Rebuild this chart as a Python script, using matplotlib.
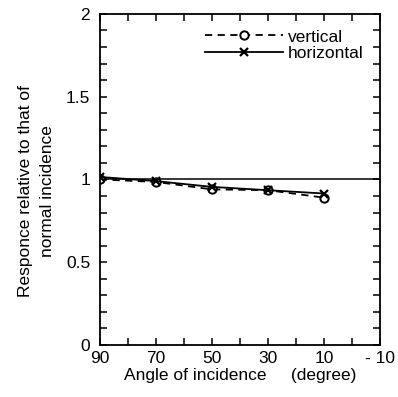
import matplotlib
matplotlib.use("Agg")
import matplotlib.pyplot as plt
from matplotlib.ticker import MultipleLocator, FixedLocator, FixedFormatter

plt.rcParams['font.family'] = ['Liberation Sans', 'DejaVu Sans']

angles = [90, 70, 50, 30, 10]
vertical = [1.00, 0.985, 0.94, 0.935, 0.89]
horizontal = [1.015, 0.99, 0.955, 0.935, 0.915]
xticks = [90, 70, 50, 30, 10, -10]
xticklabels = ["90", "70", "50", "30", "10", "- 10"]
yticks = [0, 0.5, 1, 1.5, 2]
yticklabels = ["0", "0.5", "1", "1.5", "2"]

fig = plt.figure(figsize=(3.98, 3.97), dpi=100)
ax = fig.add_axes([0.251, 0.131, 0.704, 0.834])

ax.axhline(1.0, color='black', lw=1.1, zorder=1)
ax.plot(angles, vertical, linestyle=(0, (4, 3)), color='black', lw=1.3,
        marker='o', markersize=6, markerfacecolor='white', markeredgewidth=1.4,
        label='vertical')
ax.plot(angles, horizontal, linestyle='-', color='black', lw=1.3,
        marker='x', markersize=6, markeredgewidth=1.6, label='horizontal')

ax.set_xlim(90, -10)
ax.set_ylim(0, 2)
ax.xaxis.set_major_locator(FixedLocator(xticks))
ax.xaxis.set_major_formatter(FixedFormatter(xticklabels))
ax.xaxis.set_minor_locator(MultipleLocator(10))
ax.yaxis.set_major_locator(FixedLocator(yticks))
ax.yaxis.set_major_formatter(FixedFormatter(yticklabels))
ax.yaxis.set_minor_locator(MultipleLocator(0.1))
ax.tick_params(which='both', direction='in', top=True, right=True, length=5,
               width=1.1, labelsize=12.5, color='black')
ax.tick_params(axis='x', pad=4)
ax.tick_params(axis='y', pad=7)
for s in ax.spines.values():
    s.set_linewidth(1.3)

ax.set_xlabel("Angle of incidence     (degree)", fontsize=12.5, labelpad=2)
ax.set_ylabel("Responce relative to that of\nnormal incidence", fontsize=12.5,
              linespacing=1.55)
ax.yaxis.set_label_coords(-0.16, 0.465)

leg = ax.legend(loc='upper right', bbox_to_anchor=(0.985, 0.99), frameon=False,
                fontsize=12.5, handlelength=4.5, handletextpad=0.3,
                labelspacing=0.1, borderaxespad=0.3)

fig.savefig("out.png", dpi=100)
